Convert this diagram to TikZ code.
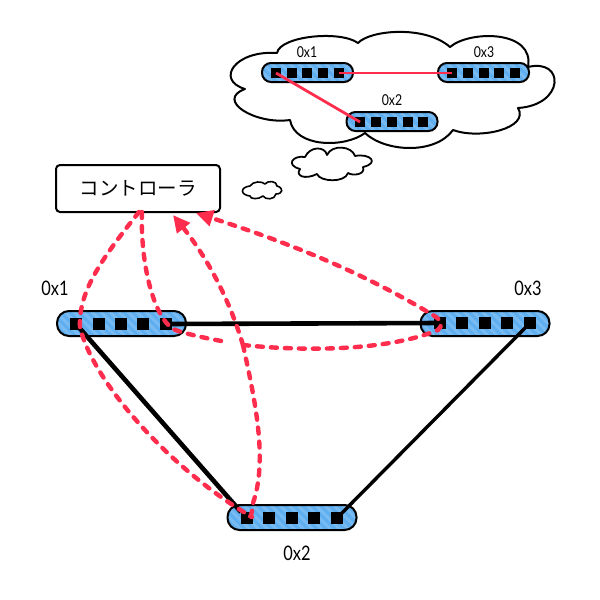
\documentclass[tikz,border=0pt]{standalone}
\usepackage{fontspec}
\setmainfont{Lato}
\newfontfamily\cjk{Noto Sans CJK JP}
\usetikzlibrary{arrows.meta}
\definecolor{redline}{HTML}{FF2D4D}
\definecolor{pillblue}{HTML}{5FAEEF}
\definecolor{pillstripe}{HTML}{78BBF3}
\tikzset{
  x=1pt,y=-1pt,
  pillbase/.style={draw=black,line width=2pt,fill=pillblue,rounded corners=#1,inner sep=0pt,
    path picture={
      \foreach \i in {-14,...,14}
        \draw[pillstripe,line width=3pt]
          ([xshift=\i*9pt-30pt,yshift=30pt]path picture bounding box.center) --
          ([xshift=\i*9pt+30pt,yshift=-30pt]path picture bounding box.center);
    }},
  bigpill/.style={pillbase=12pt,minimum width=129pt,minimum height=25pt},
  smallpill/.style={pillbase=9pt,minimum width=91pt,minimum height=19pt},
  bigport/.style={fill=black,inner sep=0pt,minimum size=11.5pt},
  smallport/.style={fill=black,inner sep=0pt,minimum size=9.5pt},
  biglabel/.style={font=\fontsize{20}{20}\selectfont,xscale=.82,inner sep=0pt},
  smalllabel/.style={font=\fontsize{15}{15}\selectfont,xscale=.82,inner sep=0pt},
  cloudline/.style={draw=black,line width=2pt,fill=white,line join=round},
  link/.style={line width=4.6pt,black},
  thinred/.style={line width=2.8pt,redline},
  dashred/.style={line width=4.4pt,redline,line cap=round,dash pattern=on 6pt off 8pt},
  ctrlbox/.style={draw=black,line width=2pt,fill=white,rounded corners=4pt,minimum width=164pt,minimum height=47pt,inner sep=0pt},
  headtip/.style={-{Triangle[length=17pt,width=16pt]}}
}
\begin{document}
\begin{tikzpicture}
\useasboundingbox (0,0) rectangle (600,600);
\fill[white] (0,0) rectangle (600,600);
% thought clouds
\draw[cloudline] (277,53) .. controls (280,36) and (340,30) .. (358,43)
  .. controls (370,30) and (425,25) .. (450,47)
  .. controls (470,30) and (535,30) .. (528,67)
  .. controls (565,58) and (565,105) .. (518,108)
  .. controls (530,128) and (480,140) .. (453,130)
  .. controls (435,155) and (385,152) .. (365,133)
  .. controls (345,148) and (295,148) .. (290,120)
  .. controls (255,125) and (215,100) .. (245,89)
  .. controls (215,80) and (235,50) .. (277,53) -- cycle;
\draw[cloudline,line width=1.8pt] (305,157) .. controls (310,146) and (325,146) .. (327,155)
  .. controls (332,144) and (352,146) .. (355,156)
  .. controls (370,153) and (380,163) .. (363,167)
  .. controls (366,175) and (352,176) .. (348,173)
  .. controls (345,183) and (320,182) .. (317,174)
  .. controls (305,180) and (295,176) .. (300,169)
  .. controls (285,165) and (293,155) .. (305,157) -- cycle;
\draw[cloudline,line width=1.6pt] (250,186) .. controls (253,181) and (262,181) .. (265,184)
  .. controls (268,180) and (277,181) .. (277,186)
  .. controls (284,188) and (283,194) .. (276,194)
  .. controls (275,200) and (265,200) .. (263,196)
  .. controls (258,200) and (250,199) .. (250,196)
  .. controls (240,195) and (240,187) .. (250,186) -- cycle;
% small switches
\node[smallpill] (s1) at (307.5,72.5) {};
\node[smallpill] (s3) at (483.5,72.5) {};
\node[smallpill] (s2) at (392,121.5) {};
\foreach \n/\x in {1/276,2/292,3/307,4/323,5/339} \node[smallport] (sa\n) at (\x,73) {};
\foreach \n/\x in {1/452,2/468,3/484,4/499,5/515} \node[smallport] (sc\n) at (\x,73) {};
\foreach \n/\x in {1/360,2/376,3/392,4/408,5/423} \node[smallport] (sb\n) at (\x,122) {};
\draw[thinred] (sa5.center) -- (sc1.center);
\draw[thinred] (sa1.center) -- (sb1.center);
\node[smalllabel] (ls1) at (307,52) {0x1};
\node[smalllabel] (ls3) at (484,52) {0x3};
\node[smalllabel] (ls2) at (392,100) {0x2};
% controller
\node[ctrlbox] (ctrl) at (138,188.5) {\cjk\fontsize{19.5}{19.5}\selectfont コントローラ};
% big switches
\node[bigpill] (p1) at (121.5,323.5) {};
\node[bigpill] (p3) at (485,323.5) {};
\node[bigpill] (p2) at (292,517.5) {};
\foreach \n/\x in {1/76,2/99,3/121,4/143,5/166} \node[bigport] (a\n) at (\x,324) {};
\foreach \n/\x in {1/440,2/462,3/485,4/507,5/530} \node[bigport] (c\n) at (\x,323) {};
\foreach \n/\x in {1/247,2/269,3/292,4/314,5/337} \node[bigport] (b\n) at (\x,518) {};
\draw[link] (a1.center) -- (b1.north west);
\draw[link] (a5.center) -- (c1.center);
\draw[link,line width=3.4pt] (c5.center) -- (b5.center);
\node[biglabel] (l1) at (55,288) {0x1};
\node[biglabel] (l3) at (528,288) {0x3};
\node[biglabel] (l2) at (297,553) {0x2};
% control traffic
\coordinate (tl) at (139,212);
\coordinate (tm) at (142,212);
\coordinate (ta) at (173,215);
\coordinate (tb) at (196,213);
\coordinate (knee) at (243,345);
\coordinate (stop) at (227,342);
\coordinate (bend) at (80,327);
\draw[dashred] (tl) .. controls (105,255) and (78,290) .. (bend)
  .. controls (92,380) and (168,468) .. (252,517);
\draw[dashred] (tm) .. controls (140,265) and (155,325) .. (178,331)
  .. controls (195,336) and (210,339) .. (stop);
\draw[dashred] (knee) .. controls (255,400) and (268,460) .. (253,503)
  .. controls (252,510) and (252,514) .. (250,517);
\draw[dashred,headtip] (knee) .. controls (228,295) and (205,255) .. (ta);
\draw[dashred,headtip] (knee) .. controls (310,352) and (390,350) .. (438,330)
  .. controls (443,326) and (441,320) .. (436,317)
  .. controls (360,270) and (280,240) .. (tb);
\end{tikzpicture}
\end{document}
